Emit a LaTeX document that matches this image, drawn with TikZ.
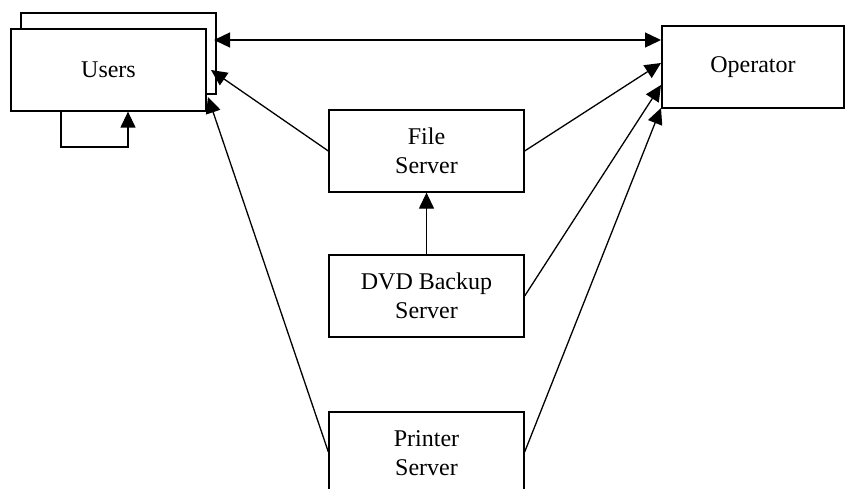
\documentclass[tikz,border=0pt]{standalone}
\usepackage{fontspec}
\setmainfont{Liberation Serif}
\usetikzlibrary{arrows.meta}
\begin{document}
\begin{tikzpicture}[x=1pt,y=-1pt,
  box/.style={draw,line width=1.3pt,fill=white,inner sep=0pt,align=center,
    font=\fontsize{24pt}{29pt}\selectfont},
  tip/.style={Triangle[length=16pt,width=15pt]},
  conn/.style={line width=1.3pt,-{Triangle[length=16pt,width=15pt]}}]
\useasboundingbox (0,0) rectangle (845,489);
% Users (stacked)
\node[box,minimum width=195pt,minimum height=81pt] (usersback) at (118.5,53.5) {};
\node[box,minimum width=195pt,minimum height=82pt] (users) at (108.5,70) {Users};
\node[box,minimum width=182pt,minimum height=82pt] (operator) at (753,67) {Operator};
\node[box,minimum width=195pt,minimum height=82pt] (file) at (426.5,151) {File\\Server};
\node[box,minimum width=195pt,minimum height=82pt] (dvd) at (426.5,296) {DVD Backup\\Server};
\node[box,minimum width=195pt,minimum height=82pt] (printer) at (426.5,453) {Printer\\Server};
% anchor points
\coordinate (uA) at (214,40);
\coordinate (uB) at (211,70);
\coordinate (uC) at (208,97);
\coordinate (oA) at (661,40);
\coordinate (oB) at (661,63);
\coordinate (oC) at (661,85);
\coordinate (oD) at (661,108);
\coordinate (loopA) at (61,147);
\coordinate (loopB) at (128,147);
% connectors
\draw[conn,{Triangle[length=16pt,width=15pt]}-{Triangle[length=16pt,width=15pt]}] (uA) -- (oA);
\draw[conn] (file.west) -- (uB);
\draw[conn] (file.east) -- (oB);
\draw[conn] (dvd.east) -- (oC);
\draw[conn] (dvd.north) -- (file.south);
\draw[conn] (printer.west) ++(0,-1) -- (uC);
\draw[conn] (printer.east) ++(0,-1) -- (oD);
\draw[conn] (users.south -| loopA) -- (loopA) -- (loopB) -- (users.south -| loopB);
\end{tikzpicture}
\end{document}
